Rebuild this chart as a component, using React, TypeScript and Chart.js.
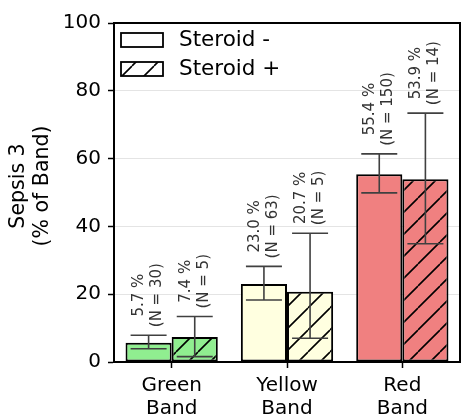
import React, { useEffect, useRef } from 'react';
import { Chart, registerables } from 'chart.js';

Chart.register(...registerables);

const categories = [['Green', 'Band'], ['Yellow', 'Band'], ['Red', 'Band']];
const seriesNames = ['Steroid -', 'Steroid +'];
const steroidMinus = [5.7, 23.0, 55.4];
const steroidPlus = [7.4, 20.7, 53.9];
const minusLow = [3.9, 18.3, 49.9];
const minusHigh = [7.9, 28.2, 61.4];
const plusLow = [1.6, 7.0, 34.9];
const plusHigh = [13.4, 38.0, 73.4];
const minusN = [30, 63, 150];
const plusN = [5, 5, 14];
const bandColors = ['#90EE90', '#FFFFE0', '#F08080'];
const yAxisTitle = ['Sepsis 3', '(% of Band)'];

const FONT = "'DejaVu Sans', Verdana, sans-serif";

function hatch(color: string): CanvasPattern | string {
  const s = 22;
  const c = document.createElement('canvas');
  c.width = s;
  c.height = s;
  const g = c.getContext('2d');
  if (!g) return color;
  g.fillStyle = color;
  g.fillRect(0, 0, s, s);
  g.strokeStyle = '#000';
  g.lineWidth = 1.6;
  g.beginPath();
  for (const k of [-s, 0, s]) {
    g.moveTo(k, s);
    g.lineTo(k + s, 0);
  }
  g.stroke();
  const p = g.createPattern(c, 'repeat');
  return p || color;
}

const overlay = {
  id: 'overlay',
  afterDatasetsDraw(chart: any) {
    const ctx: CanvasRenderingContext2D = chart.ctx;
    const ys = chart.scales.y;
    const area = chart.chartArea;
    const groups = [
      { vals: steroidMinus, lo: minusLow, hi: minusHigh, n: minusN },
      { vals: steroidPlus, lo: plusLow, hi: plusHigh, n: plusN },
    ];
    ctx.save();
    groups.forEach((gr, di) => {
      const meta = chart.getDatasetMeta(di);
      meta.data.forEach((bar: any, j: number) => {
        const x = bar.x;
        const yTop = ys.getPixelForValue(gr.hi[j]);
        const yBot = ys.getPixelForValue(gr.lo[j]);
        ctx.strokeStyle = '#404040';
        ctx.lineWidth = 1.6;
        ctx.beginPath();
        ctx.moveTo(x, yTop);
        ctx.lineTo(x, yBot);
        ctx.moveTo(x - 18, yTop);
        ctx.lineTo(x + 18, yTop);
        ctx.moveTo(x - 18, yBot);
        ctx.lineTo(x + 18, yBot);
        ctx.stroke();

        // rotated annotation
        const lines = [gr.vals[j].toFixed(1) + ' %', '(N = ' + gr.n[j] + ')'];
        ctx.save();
        ctx.font = `15px ${FONT}`;
        ctx.fillStyle = '#333';
        ctx.textBaseline = 'middle';
        ctx.textAlign = 'left';
        const widths = lines.map((l) => ctx.measureText(l).width);
        const maxW = Math.max(...widths);
        ctx.translate(x, yTop - 8);
        ctx.rotate(-Math.PI / 2);
        lines.forEach((l, k) => {
          const off = (maxW - widths[k]) / 2;
          ctx.fillText(l, off, (k - 0.5) * 18);
        });
        ctx.restore();
      });
    });

    // top and right spines
    ctx.strokeStyle = '#000';
    ctx.lineWidth = 2;
    ctx.beginPath();
    ctx.moveTo(area.left, area.top);
    ctx.lineTo(area.right, area.top);
    ctx.lineTo(area.right, area.bottom);
    ctx.stroke();

    // legend
    const lx = area.left + 7;
    const items = [
      { label: seriesNames[0], fill: '#ffffff', y: area.top + 10 },
      { label: seriesNames[1], fill: hatch('#ffffff'), y: area.top + 39 },
    ];
    items.forEach((it) => {
      ctx.fillStyle = it.fill as any;
      ctx.fillRect(lx, it.y, 42, 14);
      ctx.strokeStyle = '#000';
      ctx.lineWidth = 1.8;
      ctx.strokeRect(lx, it.y, 42, 14);
      ctx.fillStyle = '#000';
      ctx.font = `21.5px ${FONT}`;
      ctx.textAlign = 'left';
      ctx.textBaseline = 'middle';
      ctx.fillText(it.label, lx + 58, it.y + 7);
    });

    // y axis title
    ctx.save();
    ctx.font = `20.5px ${FONT}`;
    ctx.fillStyle = '#000';
    ctx.textAlign = 'center';
    ctx.textBaseline = 'middle';
    ctx.translate(31, 186);
    ctx.rotate(-Math.PI / 2);
    yAxisTitle.forEach((t, k) => ctx.fillText(t, 0, (k - 0.5) * 24));
    ctx.restore();
    ctx.restore();
  },
};

export default function App() {
  const ref = useRef<HTMLCanvasElement>(null);
  useEffect(() => {
    if (!ref.current) return;
    Chart.defaults.font.family = FONT;
    const chart = new Chart(ref.current, {
      type: 'bar',
      data: {
        labels: categories as any,
        datasets: [
          {
            label: seriesNames[0],
            data: steroidMinus,
            backgroundColor: bandColors,
            borderColor: '#000',
            borderWidth: 2,
            borderSkipped: false,
            categoryPercentage: 0.8,
            barPercentage: 1.0,
          },
          {
            label: seriesNames[1],
            data: steroidPlus,
            backgroundColor: bandColors.map((c) => hatch(c)) as any,
            borderColor: '#000',
            borderWidth: 2,
            borderSkipped: false,
            categoryPercentage: 0.8,
            barPercentage: 1.0,
          },
        ],
      },
      options: {
        responsive: false,
        animation: false,
        layout: { padding: { top: 23, right: 2, left: 0, bottom: 0 } },
        plugins: {
          legend: { display: false },
          tooltip: { enabled: false },
        },
        scales: {
          x: {
            grid: {
              display: true,
              drawOnChartArea: false,
              offset: false,
              tickLength: 6,
              tickColor: '#000',
              tickWidth: 1.5,
            },
            border: { color: '#000', width: 2 },
            ticks: {
              color: '#000',
              font: { size: 20, family: FONT, lineHeight: 1.15 },
              padding: 6,
              maxRotation: 0,
            },
            afterFit: (s: any) => {
              s.height = 55;
            },
          },
          y: {
            min: 0,
            max: 100,
            grid: {
              color: '#e4e4e4',
              lineWidth: 1,
              tickLength: 6,
              tickColor: '#000',
              tickWidth: 1.5,
            } as any,
            border: { color: '#000', width: 2 },
            ticks: {
              stepSize: 20,
              color: '#000',
              font: { size: 20, family: FONT },
              padding: 7,
            },
            afterFit: (s: any) => {
              s.width = 114;
            },
          },
        },
      },
      plugins: [overlay],
    });
    return () => chart.destroy();
  }, []);
  return (
    <div style={{ position: 'absolute', left: 0, top: 0, width: 462, height: 417 }}>
      <canvas ref={ref} width={462} height={417} />
    </div>
  );
}
